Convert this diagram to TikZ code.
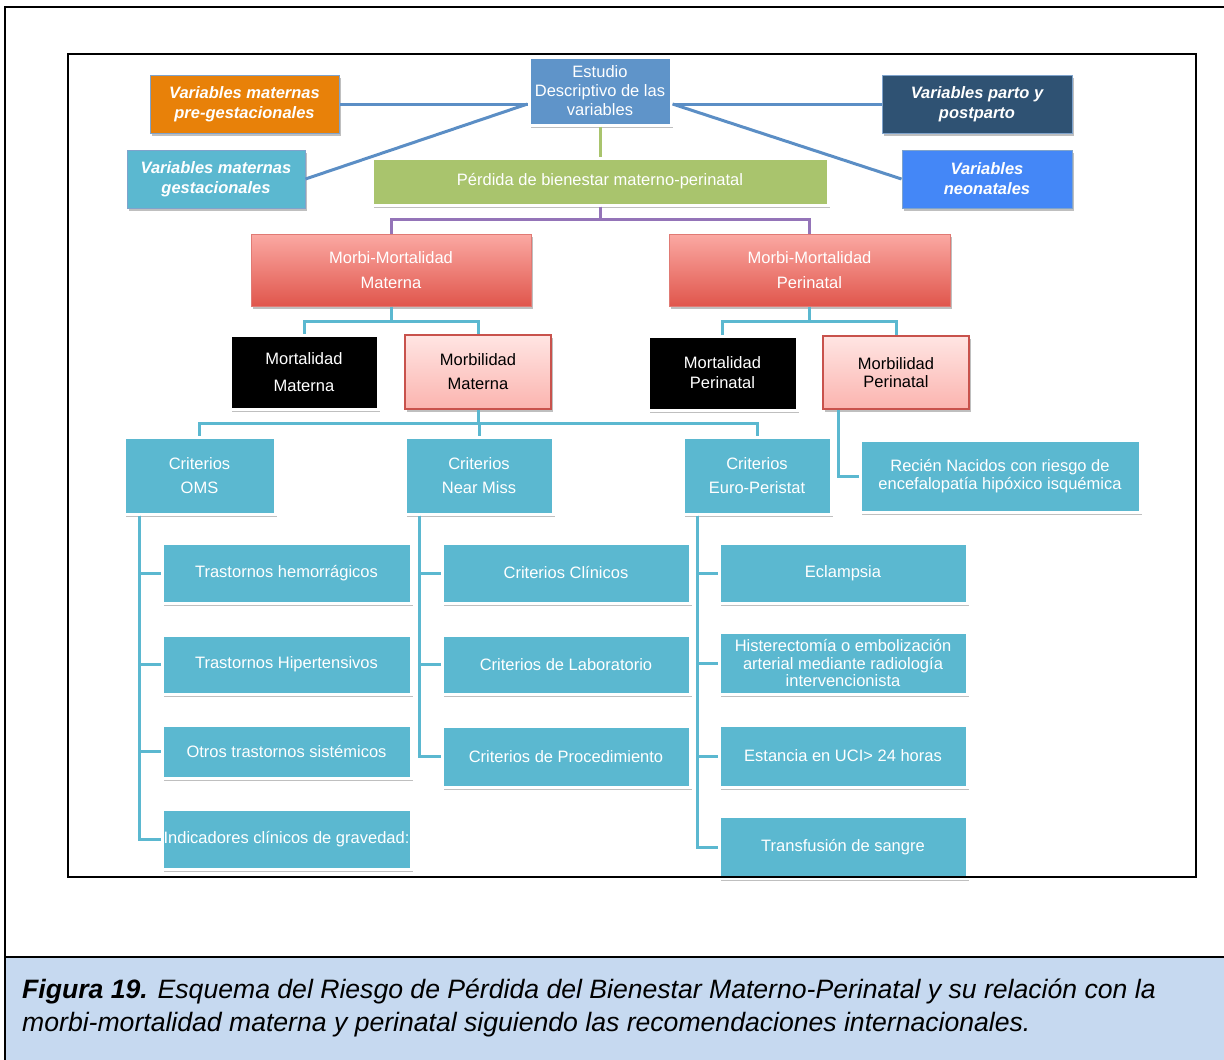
\documentclass[tikz,border=0pt]{standalone}
\usepackage{fontspec}
\setmainfont{Liberation Sans}
\usetikzlibrary{shadows,calc}

\definecolor{cyanfill}{HTML}{5BB8D0}
\definecolor{estfill}{HTML}{5F94C9}
\definecolor{greenfill}{HTML}{A9C46D}
\definecolor{orangefill}{HTML}{E88109}
\definecolor{navyfill}{HTML}{2F5273}
\definecolor{brightblue}{HTML}{4487F7}
\definecolor{thinblue}{HTML}{7FA3CC}
\definecolor{linkblue}{HTML}{5B8EC5}
\definecolor{purpleline}{HTML}{9474B8}
\definecolor{redtop}{HTML}{FBA9A3}
\definecolor{redbot}{HTML}{E0564C}
\definecolor{rededge}{HTML}{E07A74}
\definecolor{pinktop}{HTML}{FFE5E3}
\definecolor{pinkbot}{HTML}{FBB4AF}
\definecolor{pinkedge}{HTML}{C8524C}
\definecolor{captionfill}{HTML}{C6D9F0}

\begin{document}
\begin{tikzpicture}[x=1pt,y=-1pt,
  base/.style={rectangle, align=center, inner sep=0pt, text=white,
    font=\fontsize{16.5}{19}\selectfont,
    drop shadow={shadow xshift=2pt, shadow yshift=-3pt, opacity=0.25, fill=black}},
  whiteframed/.style={base, draw=white, line width=3pt},
  cbox/.style={whiteframed, fill=cyanfill},
  blackbox/.style={whiteframed, fill=black},
  varbox/.style={base, draw=thinblue, line width=1pt,
    font=\fontsize{16.5}{20}\selectfont\bfseries\itshape},
  redbox/.style={base, top color=redtop, bottom color=redbot, draw=rededge, line width=1pt},
  pinkbox/.style={base, top color=pinktop, bottom color=pinkbot, draw=pinkedge,
    line width=1.5pt, text=black},
  sz/.style 2 args={minimum width=#1pt, minimum height=#2pt},
  bluelink/.style={draw=linkblue, line width=3pt},
  greenlink/.style={draw=greenfill, line width=3pt},
  purplelink/.style={draw=purpleline, line width=3pt},
  cyanlink/.style={draw=cyanfill, line width=3pt},
  caption/.style={anchor=west, inner sep=0pt, font=\fontsize{26.6}{30}\selectfont\itshape}
]
\useasboundingbox (0,0) rectangle (1224,1060);

% caption band and outer rules
\fill[captionfill] (5,957) rectangle (1224,1060);
\draw[line width=2pt] (5,1060) -- (5,7) -- (1224,7);
\draw[line width=2.5pt] (5,957) -- (1224,957);

% top level
\node[whiteframed, fill=estfill, sz={142}{68}] (est) at (600,91) {Estudio\\Descriptivo de las\\variables};
\node[varbox, fill=orangefill, sz={189}{58}] (vpre) at (244.5,104) {Variables maternas\\pre-gestacionales};
\node[varbox, fill=cyanfill, sz={178}{58}] (vges) at (216,179) {Variables maternas\\gestacionales};
\node[varbox, fill=navyfill, sz={190}{58}] (vpar) at (977,104) {Variables parto y\\postparto};
\node[varbox, fill=brightblue, sz={170}{58}] (vneo) at (987,179) {Variables\\neonatales};
\node[whiteframed, fill=greenfill, sz={456}{47}] (perd) at (600,181.5) {Pérdida de bienestar materno-perinatal};

\coordinate (estL) at ($(est.west)+(0,13)$);
\coordinate (estR) at ($(est.east)+(0,13)$);
\draw[bluelink] (estL) -- (vpre.east);
\draw[bluelink] (estL) -- (vges.east);
\draw[bluelink] (estR) -- (vpar.west);
\draw[bluelink] (estR) -- (vneo.west);
\draw[greenlink] (est.south) -- (perd.north);

% morbi-mortalidad level
\node[redbox, sz={280}{72}, font=\fontsize{16.5}{25}\selectfont] (mmm) at (391,270) {Morbi-Mortalidad\\Materna};
\node[redbox, sz={281}{72}, font=\fontsize{16.5}{25}\selectfont] (mmp) at (809.5,270) {Morbi-Mortalidad\\Perinatal};
\draw[purplelink] (perd.south) -- ++(0,13) -| (mmm.north);
\draw[purplelink] (perd.south) -- ++(0,13) -| (mmp.north);

\node[blackbox, sz={148}{74}, font=\fontsize{16.5}{27}\selectfont] (mortm) at (304,372) {Mortalidad\\Materna};
\node[pinkbox, sz={146}{74}, font=\fontsize{16.5}{24}\selectfont] (morbm) at (478,372) {Morbilidad\\Materna};
\node[blackbox, sz={149}{74}, font=\fontsize{16.5}{20}\selectfont] (mortp) at (722.5,373) {Mortalidad\\Perinatal};
\node[pinkbox, sz={146}{73}, font=\fontsize{16.5}{18}\selectfont] (morbp) at (896,372.5) {Morbilidad\\Perinatal};

\draw[cyanlink] (mmm.south) -- ++(0,15) -| (mortm.north);
\draw[cyanlink] (mmm.south) -- ++(0,15) -| (morbm.north);
\draw[cyanlink] (mmp.south) -- ++(0,15) -| (mortp.north);
\draw[cyanlink] (mmp.south) -- ++(0,15) -| (morbp.north);

% criteria level
\node[cbox, sz={151}{77}, font=\fontsize{16.5}{24}\selectfont] (coms) at (199.5,475.5) {Criterios\\OMS};
\node[cbox, sz={148}{77}, font=\fontsize{16.5}{24}\selectfont] (cnm) at (479,475.5) {Criterios\\Near Miss};
\node[cbox, sz={148}{77}, font=\fontsize{16.5}{24}\selectfont] (cep) at (757,475.5) {Criterios\\Euro-Peristat};
\node[cbox, sz={280}{72}, font=\fontsize{16.5}{18}\selectfont] (rn) at (1000,476) {Recién Nacidos con riesgo de\\encefalopatía hipóxico isquémica};

\draw[cyanlink] (morbm.south) -- ++(0,14) -| (coms.north);
\draw[cyanlink] (morbm.south) -- ++(0,14) -| (cnm.north);
\draw[cyanlink] (morbm.south) -- ++(0,14) -| (cep.north);
\draw[cyanlink] ($(morbp.south west)+(16,0)$) |- (rn.west);

% OMS items
\node[cbox, sz={249}{60}] (t1) at (286.5,573) {Trastornos hemorrágicos};
\node[cbox, sz={249}{59}] (t2) at (286.5,664.5) {Trastornos Hipertensivos};
\node[cbox, sz={249}{53}] (t3) at (286.5,751.5) {Otros trastornos sistémicos};
\node[cbox, sz={249}{60}] (t4) at (286.5,839) {Indicadores clínicos de gravedad:};
\foreach \c in {t1,t2,t3,t4}
  \draw[cyanlink] ($(coms.south west)+(17,0)$) |- (\c.west);

% Near Miss items
\node[cbox, sz={248}{60}] (n1) at (566,573) {Criterios Clínicos};
\node[cbox, sz={248}{59}] (n2) at (566,664.5) {Criterios de Laboratorio};
\node[cbox, sz={248}{61}] (n3) at (566,756.5) {Criterios de Procedimiento};
\foreach \c in {n1,n2,n3}
  \draw[cyanlink] ($(cnm.south west)+(16,0)$) |- (\c.west);

% Euro-Peristat items
\node[cbox, sz={248}{60}] (e1) at (843,573) {Eclampsia};
\node[cbox, sz={248}{62}, font=\fontsize{16.5}{17.5}\selectfont] (e2) at (843,663) {Histerectomía o embolización\\arterial mediante radiología\\intervencionista};
\node[cbox, sz={248}{62}] (e3) at (843,756) {Estancia en UCI> 24 horas};
\node[cbox, sz={248}{62}] (e4) at (843,847) {Transfusión de sangre};
\foreach \c in {e1,e2,e3,e4}
  \draw[cyanlink] ($(cep.south west)+(16,0)$) |- (\c.west);

% inner frame
\draw[line width=1.8pt] (68,54) rectangle (1196,877);

% caption
\node[caption] (cap1) at (22,991) {\textbf{Figura 19.} Esquema del Riesgo de Pérdida del Bienestar Materno-Perinatal y su relación con la};
\node[caption] (cap2) at (22,1025) {morbi-mortalidad materna y perinatal siguiendo las recomendaciones internacionales.};
\end{tikzpicture}
\end{document}
